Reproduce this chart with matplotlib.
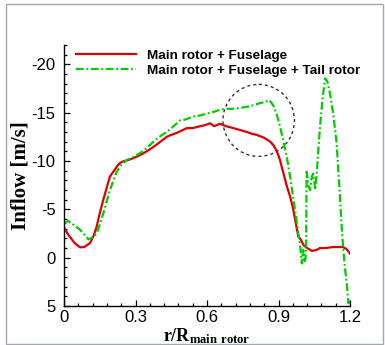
import matplotlib
matplotlib.use("Agg")
import matplotlib.pyplot as plt
from matplotlib.patches import Ellipse, Rectangle
from matplotlib.ticker import MultipleLocator

plt.rcParams['font.family'] = ['Liberation Sans', 'DejaVu Sans']
plt.rcParams['mathtext.fontset'] = 'custom'
plt.rcParams['mathtext.bf'] = 'Liberation Serif:bold'
plt.rcParams['mathtext.rm'] = 'Liberation Serif:bold'

# main rotor + fuselage
r_mf = [0.0, 0.02, 0.045, 0.067, 0.085, 0.109, 0.125, 0.137, 0.15, 0.165, 0.18, 0.193,
        0.21, 0.221, 0.235, 0.249, 0.27, 0.291, 0.31, 0.333, 0.36, 0.389, 0.41, 0.431,
        0.45, 0.473, 0.49, 0.515, 0.54, 0.571, 0.59, 0.613, 0.63, 0.655, 0.68, 0.711,
        0.74, 0.767, 0.79, 0.809, 0.84, 0.865, 0.88, 0.893, 0.905, 0.921, 0.935, 0.949,
        0.96, 0.97, 0.983, 0.995, 1.005, 1.02, 1.04, 1.06, 1.074, 1.1, 1.13, 1.15,
        1.17, 1.185, 1.199]
v_mf = [-3.1, -2.3, -1.5, -1.07, -1.1, -1.5, -2.3, -3.2, -4.6, -6.0, -7.3, -8.4,
        -9.0, -9.4, -9.8, -9.97, -10.1, -10.3, -10.5, -10.8, -11.2, -11.7, -12.1, -12.5,
        -12.7, -12.9, -13.1, -13.4, -13.4, -13.6, -13.7, -13.9, -13.6, -13.85, -13.6, -13.4,
        -13.2, -13.0, -12.8, -12.7, -12.4, -12.0, -11.6, -11.0, -10.2, -8.7, -7.4, -6.3,
        -5.2, -3.9, -2.2, -1.8, -1.3, -1.0, -0.7, -0.8, -1.0, -1.0, -1.1, -1.1,
        -1.1, -0.9, -0.45]

# main rotor + fuselage + tail rotor
r_mft = [0.0, 0.018, 0.04, 0.067, 0.085, 0.102, 0.12, 0.137, 0.15, 0.165, 0.18, 0.193,
         0.21, 0.221, 0.24, 0.263, 0.29, 0.319, 0.35, 0.375, 0.4, 0.431, 0.46, 0.487,
         0.51, 0.543, 0.57, 0.599, 0.63, 0.655, 0.68, 0.711, 0.74, 0.767, 0.8, 0.823,
         0.845, 0.858, 0.868, 0.879, 0.893, 0.907, 0.92, 0.935, 0.95, 0.963, 0.975, 0.983,
         0.992, 0.998, 1.003, 1.008, 1.013, 1.016, 1.018, 1.022, 1.026, 1.032, 1.04, 1.046,
         1.05, 1.054, 1.06, 1.074, 1.085, 1.096, 1.105, 1.116, 1.13, 1.144, 1.155, 1.165,
         1.172, 1.18, 1.187, 1.193, 1.197, 1.2]
v_mft = [-3.5, -3.8, -3.4, -2.9, -2.4, -1.9, -2.1, -2.5, -3.4, -4.6, -5.9, -7.0,
         -8.2, -8.9, -9.6, -10.1, -10.4, -10.8, -11.4, -12.0, -12.5, -13.0, -13.6, -14.2,
         -14.3, -14.6, -14.7, -14.9, -15.1, -15.3, -15.4, -15.4, -15.5, -15.6, -15.8, -16.0,
         -16.1, -16.3, -16.1, -15.7, -14.8, -13.5, -12.1, -10.4, -8.2, -6.0, -4.0, -2.5,
         -1.0, 0.6, -0.8, 0.5, 0.2, -2.0, -8.9, -8.2, -7.4, -7.0, -8.4, -8.7,
         -8.0, -7.0, -8.6, -13.5, -16.5, -18.55, -18.2, -17.0, -14.8, -11.8, -7.5, -3.2,
         -0.8, 1.3, 2.8, 4.7, 4.4, 5.5]

circle_center = (0.817, -14.2)
circle_size = (0.30, 7.45)

fig = plt.figure(figsize=(3.85, 3.45), dpi=100)
fig.patches.append(Rectangle((6 / 385, 1 - 343.5 / 345), 377 / 385, 339.5 / 345,
                             transform=fig.transFigure, fill=False,
                             edgecolor='#a3a7ab', linewidth=1.0))
ax = fig.add_axes([64 / 385, 1 - 306 / 345, 286 / 385, 261 / 345])

ax.plot(r_mf, v_mf, color='#dd0000', lw=1.6, label='Main rotor + Fuselage')
ax.plot(r_mft, v_mft, color='#00cc00', lw=1.6, dashes=(3.5, 1.2, 0.8, 1.2),
        label='Main rotor + Fuselage + Tail rotor')
ax.add_patch(Ellipse(circle_center, circle_size[0], circle_size[1], fill=False,
                     edgecolor='#333333', lw=1.0, linestyle=(0, (2.2, 2.2))))

ax.set_xlim(0, 1.2)
ax.set_ylim(5, -22)
ax.set_yticks([-20, -15, -10, -5, 0, 5])
ax.set_yticklabels(['-20', '-15', '-10', '-5', '0', '5'])
ax.set_xticks([0, 0.3, 0.6, 0.9, 1.2])
ax.set_xticklabels(['0', '0.3', '0.6', '0.9', '1.2'])
ax.xaxis.set_minor_locator(MultipleLocator(0.06))
ax.yaxis.set_minor_locator(MultipleLocator(1))
ax.tick_params(which='both', direction='in', labelsize=12, width=0.9)
ax.tick_params(axis='y', which='major', length=4, pad=6)
ax.tick_params(axis='x', which='major', length=4, pad=3)
ax.tick_params(which='minor', length=2)
for s in ['top', 'right']:
    ax.spines[s].set_visible(False)
for s in ['left', 'bottom']:
    ax.spines[s].set_linewidth(1.0)

ax.set_ylabel('Inflow [m/s]', family='Liberation Serif', fontweight='bold', fontsize=15,
              labelpad=1)
ax.set_xlabel(r'$\mathbf{r/R_{main\ rotor}}$', fontsize=13, labelpad=0.5)

ax.legend(loc='upper left', bbox_to_anchor=(0.02, 1.01), frameon=False,
          prop={'family': 'Liberation Sans', 'weight': 'bold', 'size': 9.7},
          handlelength=4.4, handletextpad=0.8, labelspacing=0.22, borderpad=0)

fig.savefig('out.png', dpi=100)
